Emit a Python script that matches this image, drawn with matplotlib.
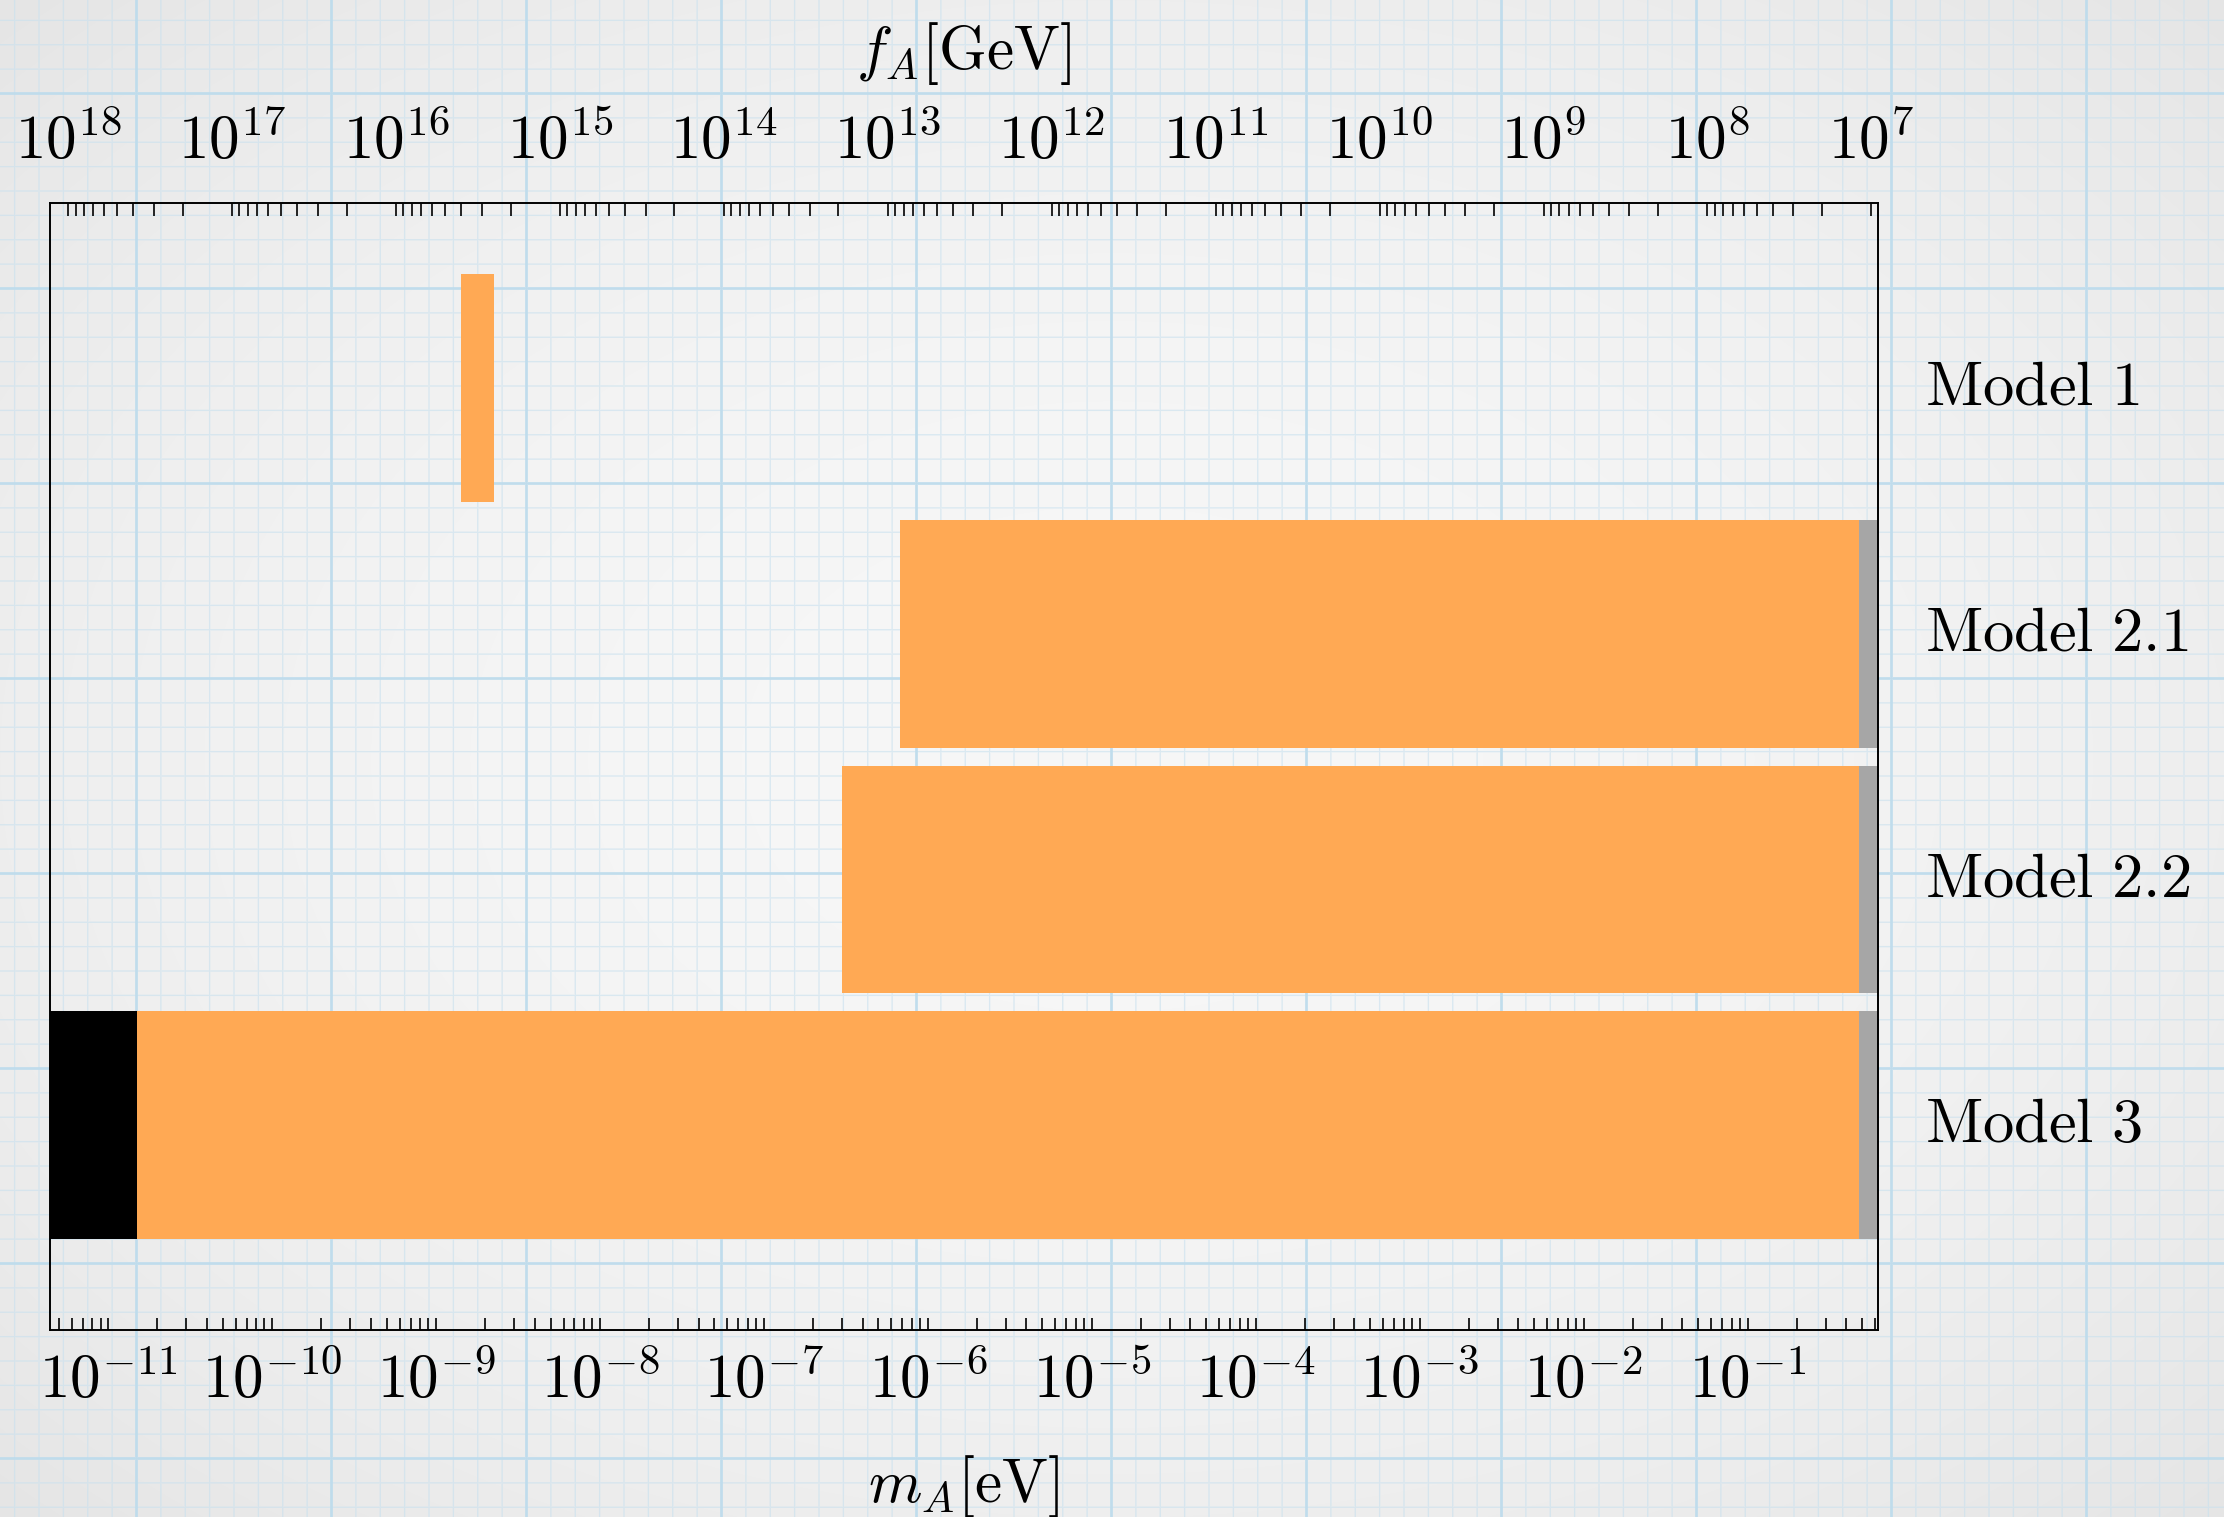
import numpy as np
import matplotlib
matplotlib.use('Agg')
import matplotlib.pyplot as plt
from matplotlib.ticker import LogLocator, NullFormatter

plt.rcParams['mathtext.fontset'] = 'cm'

# axion mass window [eV] for each model
models = [r'$\mathrm{Model\ 1}$', r'$\mathrm{Model\ 2.1}$',
          r'$\mathrm{Model\ 2.2}$', r'$\mathrm{Model\ 3}$']
ypos = [4, 3, 2, 1]
allowed_lo = [1.42e-9, 6.8e-7, 3.0e-7, 1.5e-11]
allowed_hi = [2.25e-9, 0.48, 0.48, 0.48]
# excluded pieces: grey above ~0.48 eV, black below 1.5e-11 eV (Model 3 only)
grey_rows = [3, 2, 1]
grey_lo, grey_hi = 0.48, 1.0
black_rows = [1]
black_lo, black_hi = 1e-12, 1.5e-11

m_min, m_max = 4.4e-12, 0.625


def m_to_f(m):
    # m_A = 5.7 ueV * (1e12 GeV / f_A)
    return 5.7e6 / m


m_ticks = [10.0**k for k in range(-11, 0)]
m_labels = [r'$10^{%d}$' % k for k in range(-11, 0)]
f_ticks = [10.0**k for k in range(7, 19)]
f_labels = [r'$10^{%d}$' % k for k in range(7, 19)]

W, H = 2224, 1517
fig = plt.figure(figsize=(W / 100, H / 100), dpi=100)

# graph paper backdrop
yy, xx = np.mgrid[0:H, 0:W].astype(np.float32)
r2 = ((xx - W / 2) / (W / 2))**2 + ((yy - H / 2) / (H / 2))**2
base = 247 - 9 * r2


def lines(c, off, step, half):
    d = np.abs(((c - off + step / 2) % step) - step / 2)
    return np.clip(half + 0.5 - d, 0, 1)


minor = np.maximum(lines(xx, 136, 195 / 8, 0.7), lines(yy, 93, 195 / 8, 0.7))
major = np.maximum(lines(xx, 136, 195, 1.4), lines(yy, 93, 195, 1.4))
img = np.stack([base, base, base], axis=-1)
minor_col = np.array([200, 224, 238], dtype=np.float32)
major_col = np.array([188, 219, 236], dtype=np.float32)
a = (0.6 * minor)[..., None]
img = img * (1 - a) + minor_col * a
a = (0.85 * major)[..., None]
img = img * (1 - a) + major_col * a
fig.figimage(np.clip(img, 0, 255).astype(np.uint8), 0, 0, origin='upper', zorder=-10)

ax = fig.add_axes([49.6 / W, 1 - 1330 / H, (1878 - 49.6) / W, (1330 - 203) / H])
ax.patch.set_alpha(0)
ax.set_xscale('log')

bh = 0.927
ax.barh(ypos, np.array(allowed_hi) - np.array(allowed_lo), left=allowed_lo,
        height=bh, color='#ffa954', edgecolor='none')
ax.barh(grey_rows, grey_hi - grey_lo, left=grey_lo, height=bh,
        color='#a6a6a6', edgecolor='none')
ax.barh(black_rows, black_hi - black_lo, left=black_lo, height=bh,
        color='black', edgecolor='none')

ax.set_xlim(m_min, m_max)
ax.set_ylim(0.167, 4.752)
ax.set_xticks(m_ticks, m_labels)
ax.xaxis.set_minor_locator(LogLocator(base=10, subs=np.arange(2, 10), numticks=30))
ax.xaxis.set_minor_formatter(NullFormatter())
ax.tick_params(axis='x', which='both', direction='in', length=9, width=1.2,
               labelsize=44, pad=16)
ax.set_xlabel(r'$m_A[\mathrm{eV}]$', fontsize=44, labelpad=30)

ax.yaxis.tick_right()
ax.set_yticks(ypos, models)
ax.tick_params(axis='y', length=0, pad=34, labelsize=45)
for lab in ax.get_yticklabels():
    lab.set_va('center')

for s in ax.spines.values():
    s.set_linewidth(1.2)

top = ax.twiny()
top.set_xscale('log')
top.set_xlim(m_to_f(m_min), m_to_f(m_max))
top.set_xticks(f_ticks, f_labels)
top.xaxis.set_minor_locator(LogLocator(base=10, subs=np.arange(2, 10), numticks=30))
top.xaxis.set_minor_formatter(NullFormatter())
top.tick_params(axis='x', which='both', direction='in', length=9, width=1.2,
                labelsize=44, pad=22)
top.set_xlabel(r'$f_A[\mathrm{GeV}]$', fontsize=44, labelpad=32)
for s in top.spines.values():
    s.set_linewidth(1.2)

fig.savefig('out.png', dpi=100)
